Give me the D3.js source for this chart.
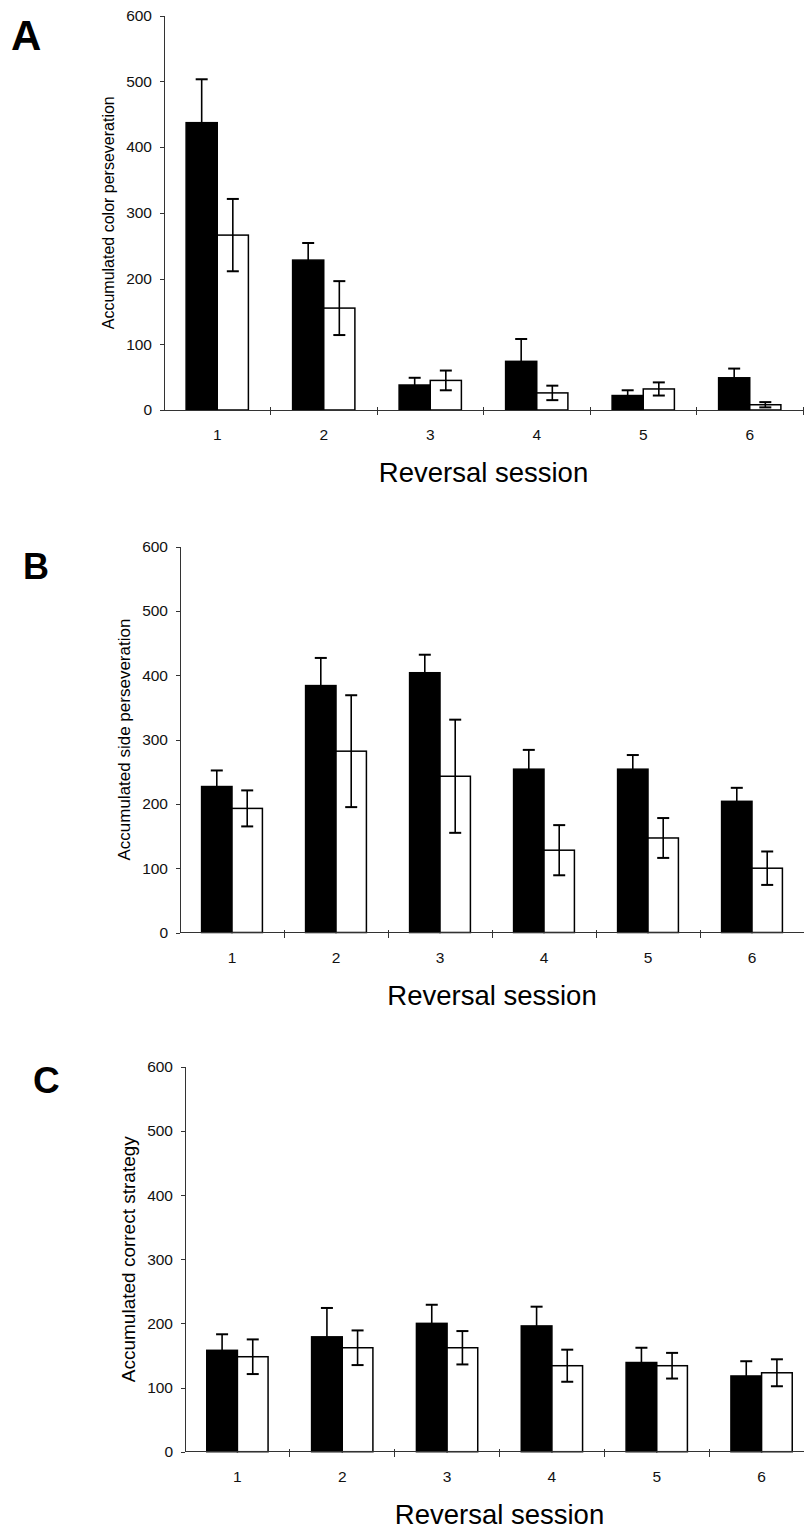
<!DOCTYPE html>
<meta charset="utf-8">
<script src="https://d3js.org/d3.v7.min.js"></script>
<style>
  body { margin: 0; background: #fff; }
  svg { display: block; font-family: "Liberation Sans", Arial, sans-serif; }
  .axis path, .axis line { stroke: #333; shape-rendering: crispEdges; }
  .axis text { font-size: 15.5px; fill: #111; }
</style>
<body>
<div id="chart"></div>
<script>
  // sessions on the x axis
  var sessions = ["1", "2", "3", "4", "5", "6"];
  var yTicks = [0, 100, 200, 300, 400, 500, 600];

  // A: colour perseveration (black group, white group) and their error bars
  var colorBlack = [437, 228, 38, 74, 22, 49];
  var colorBlackErr = [66, 26, 11, 34, 8, 14];
  var colorWhite = [266, 155, 45, 26, 32, 8];
  var colorWhiteErr = [55, 41, 15, 11, 10, 4];

  // B: side perseveration
  var sideBlack = [227, 384, 404, 254, 254, 204];
  var sideBlackErr = [25, 43, 28, 30, 22, 21];
  var sideWhite = [193, 282, 243, 128, 147, 100];
  var sideWhiteErr = [28, 87, 88, 39, 31, 26];

  // C: correct strategy
  var correctBlack = [158, 179, 200, 196, 139, 118];
  var correctBlackErr = [25, 45, 29, 30, 23, 23];
  var correctWhite = [148, 162, 162, 134, 134, 123];
  var correctWhiteErr = [27, 27, 26, 25, 20, 21];

  var width = 804, height = 1531;

  var svg = d3.select("#chart").append("svg")
    .attr("width", width)
    .attr("height", height);

  // panel layout (pixels)
  var panels = [
    { letter: "A", ylabel: "Accumulated color perseveration",
      black: colorBlack, blackErr: colorBlackErr, white: colorWhite, whiteErr: colorWhiteErr,
      x0: 164, x1: 803, top: 15.5, bottom: 410,
      lx: 11, ly: 50, lsize: 42, ysize: 16 },
    { letter: "B", ylabel: "Accumulated side perseveration",
      black: sideBlack, blackErr: sideBlackErr, white: sideWhite, whiteErr: sideWhiteErr,
      x0: 180, x1: 804, top: 546.7, bottom: 932.5,
      lx: 23, ly: 579, lsize: 36, ysize: 17 },
    { letter: "C", ylabel: "Accumulated correct strategy",
      black: correctBlack, blackErr: correctBlackErr, white: correctWhite, whiteErr: correctWhiteErr,
      x0: 185, x1: 814, top: 1066.7, bottom: 1451.7,
      lx: 33, ly: 1093, lsize: 37, ysize: 19 }
  ];

  panels.forEach(drawPanel);

  function drawPanel(p) {
    var g = svg.append("g");

    var x = d3.scaleBand().domain(sessions).range([p.x0, p.x1]).padding(0);
    var sub = d3.scaleBand().domain(["black", "white"])
      .range([0, x.bandwidth()]).paddingInner(0).paddingOuter(0.71);
    var y = d3.scaleLinear().domain([0, 600]).range([p.bottom, p.top]);

    // y axis
    g.append("g")
      .attr("class", "axis")
      .attr("transform", "translate(" + p.x0 + ",0)")
      .call(d3.axisLeft(y).tickValues(yTicks).tickSize(4).tickPadding(8).tickSizeOuter(0));

    // rows for bars
    var rows = [];
    sessions.forEach(function (s, i) {
      rows.push({ s: s, key: "black", v: p.black[i], e: p.blackErr[i] });
      rows.push({ s: s, key: "white", v: p.white[i], e: p.whiteErr[i] });
    });

    g.selectAll("rect.bar")
      .data(rows)
      .enter().append("rect")
      .attr("class", "bar")
      .attr("x", function (d) { return x(d.s) + sub(d.key); })
      .attr("y", function (d) { return y(d.v); })
      .attr("width", sub.bandwidth())
      .attr("height", function (d) { return y(0) - y(d.v); })
      .attr("fill", function (d) { return d.key == "black" ? "#000" : "#fff"; })
      .attr("stroke", "#000")
      .attr("stroke-width", 1.5);

    // error bars
    var cap = 6;
    var err = g.selectAll("g.err")
      .data(rows)
      .enter().append("g")
      .attr("class", "err")
      .attr("stroke", "#000");

    function cx(d) { return x(d.s) + sub(d.key) + sub.bandwidth() / 2; }

    err.append("line")
      .attr("x1", cx).attr("x2", cx)
      .attr("y1", function (d) { return y(d.v + d.e); })
      .attr("y2", function (d) { return y(Math.max(0, d.v - d.e)); })
      .attr("stroke-width", 1.6);
    err.append("line")
      .attr("x1", function (d) { return cx(d) - cap; })
      .attr("x2", function (d) { return cx(d) + cap; })
      .attr("y1", function (d) { return y(d.v + d.e); })
      .attr("y2", function (d) { return y(d.v + d.e); })
      .attr("stroke-width", 2);
    err.append("line")
      .attr("x1", function (d) { return cx(d) - cap; })
      .attr("x2", function (d) { return cx(d) + cap; })
      .attr("y1", function (d) { return y(Math.max(0, d.v - d.e)); })
      .attr("y2", function (d) { return y(Math.max(0, d.v - d.e)); })
      .attr("stroke-width", 2);

    // x axis: crossing ticks at band boundaries, labels at band centres
    var xa = g.append("g").attr("class", "axis");
    xa.append("line")
      .attr("x1", p.x0).attr("x2", p.x1)
      .attr("y1", y(0)).attr("y2", y(0));
    xa.selectAll("line.tick")
      .data(sessions.slice(1).concat(["end"]))
      .enter().append("line")
      .attr("class", "tick")
      .attr("x1", function (d) { return d == "end" ? p.x1 : x(d); })
      .attr("x2", function (d) { return d == "end" ? p.x1 : x(d); })
      .attr("y1", y(0) - 3)
      .attr("y2", y(0) + 5);
    xa.selectAll("text")
      .data(sessions)
      .enter().append("text")
      .attr("x", function (d) { return x(d) + x.bandwidth() / 2; })
      .attr("y", y(0) + 30)
      .attr("text-anchor", "middle")
      .text(function (d) { return d; });

    // axis titles
    g.append("text")
      .attr("text-anchor", "middle")
      .attr("x", (p.x0 + p.x1) / 2)
      .attr("y", y(0) + 72)
      .style("font-size", "27.5px")
      .text("Reversal session");

    g.append("text")
      .attr("text-anchor", "middle")
      .attr("transform", "translate(" + (p.x0 - 50) + "," + ((p.top + p.bottom) / 2) + ")rotate(-90)")
      .style("font-size", p.ysize + "px")
      .text(p.ylabel);

    // panel letter
    g.append("text")
      .attr("x", p.lx)
      .attr("y", p.ly)
      .style("font-size", p.lsize + "px")
      .style("font-weight", "bold")
      .text(p.letter);
  }
</script>
</body>
